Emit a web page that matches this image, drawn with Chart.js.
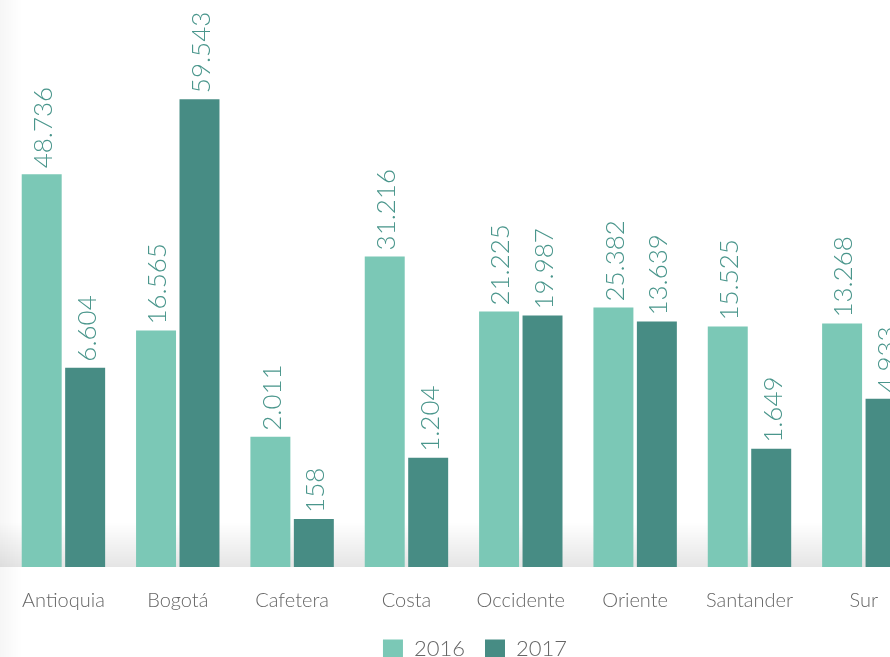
<!DOCTYPE html>
<html>
<head>
<meta charset="utf-8">
<script src="https://cdn.jsdelivr.net/npm/chart.js@4"></script>
<style>
html,body{margin:0;padding:0;background:#fff;overflow:hidden;width:890px;height:657px;}
#wrap{position:absolute;left:0;top:0;width:954px;height:657px;}
canvas{display:block;}
</style>
</head>
<body>
<div id="wrap"><canvas id="c" width="954" height="657"></canvas></div>
<script>
const categories = ["Antioquia","Bogotá","Cafetera","Costa","Occidente","Oriente","Santander","Sur"];
const seriesNames = ["2016","2017"];
// Values shown as labels
const labels2016 = ["48.736","16.565","2.011","31.216","21.225","25.382","15.525","13.268"];
const labels2017 = ["6.604","59.543","158","1.204","19.987","13.639","1.649","4.933"];
// Bar heights as drawn in the picture (not proportional to labels)
const bars2016 = [392,236,130,310,255,259,240,243];
const bars2017 = [199,467,48,109,251,245,118,168];

const FONT = "Lato, 'Open Sans', sans-serif";
const C_LIGHT = "#7BC8B6";
const C_DARK = "#478C84";

const bgPlugin = {
  id:'bg',
  beforeDatasetsDraw(chart){
    const {ctx, chartArea:a} = chart;
    ctx.save();
    const g = ctx.createLinearGradient(0, a.bottom-45, 0, a.bottom);
    g.addColorStop(0,'rgba(0,0,0,0)');
    g.addColorStop(1,'rgba(0,0,0,0.10)');
    ctx.fillStyle = g;
    ctx.fillRect(0, a.bottom-45, chart.width, 45);
    const g2 = ctx.createLinearGradient(0,0,22,0);
    g2.addColorStop(0,'rgba(0,0,0,0.035)');
    g2.addColorStop(1,'rgba(0,0,0,0)');
    ctx.fillStyle = g2;
    ctx.fillRect(0,0,22,chart.height);
    ctx.restore();
  }
};

const labelPlugin = {
  id:'vlabels',
  afterDatasetsDraw(chart){
    const {ctx} = chart;
    const texts = [labels2016, labels2017];
    ctx.save();
    ctx.fillStyle = "#4A968C";
    ctx.font = "300 26px " + FONT;
    ctx.textAlign = "left";
    ctx.textBaseline = "middle";
    chart.data.datasets.forEach((ds, di) => {
      const meta = chart.getDatasetMeta(di);
      meta.data.forEach((bar, i) => {
        ctx.save();
        ctx.translate(bar.x + 2, bar.y - 6);
        ctx.rotate(-Math.PI/2);
        ctx.fillText(texts[di][i], 0, 0);
        ctx.restore();
      });
    });
    ctx.restore();
  }
};

new Chart(document.getElementById('c'), {
  type:'bar',
  data:{
    labels: categories,
    datasets:[
      {label: seriesNames[0], data: bars2016, backgroundColor: C_LIGHT, categoryPercentage:0.76, barPercentage:0.92},
      {label: seriesNames[1], data: bars2017, backgroundColor: C_DARK, categoryPercentage:0.76, barPercentage:0.92}
    ]
  },
  options:{
    responsive:false,
    animation:false,
    devicePixelRatio:1,
    layout:{padding:{left:0, right:4, top:0, bottom:-13}},
    plugins:{
      legend:{
        position:'bottom',
        labels:{
          boxWidth:20, boxHeight:19, padding:20,
          color:'#666', font:{family:FONT, size:22, weight:'300', lineHeight:1}
        }
      },
      tooltip:{enabled:false}
    },
    scales:{
      x:{
        grid:{display:false, drawTicks:false},
        border:{display:false},
        ticks:{color:'#666', font:{family:FONT, size:20, weight:'300'}, padding:22, maxRotation:0, autoSkip:false},
        afterFit(scale){ scale.height = 51; }
      },
      y:{
        position:'right',
        min:0, max:566,
        grid:{display:false, drawTicks:false},
        border:{display:false},
        ticks:{display:false},
        afterFit(scale){ scale.width = 29; }
      }
    }
  },
  plugins:[bgPlugin, labelPlugin]
});
</script>
</body>
</html>
